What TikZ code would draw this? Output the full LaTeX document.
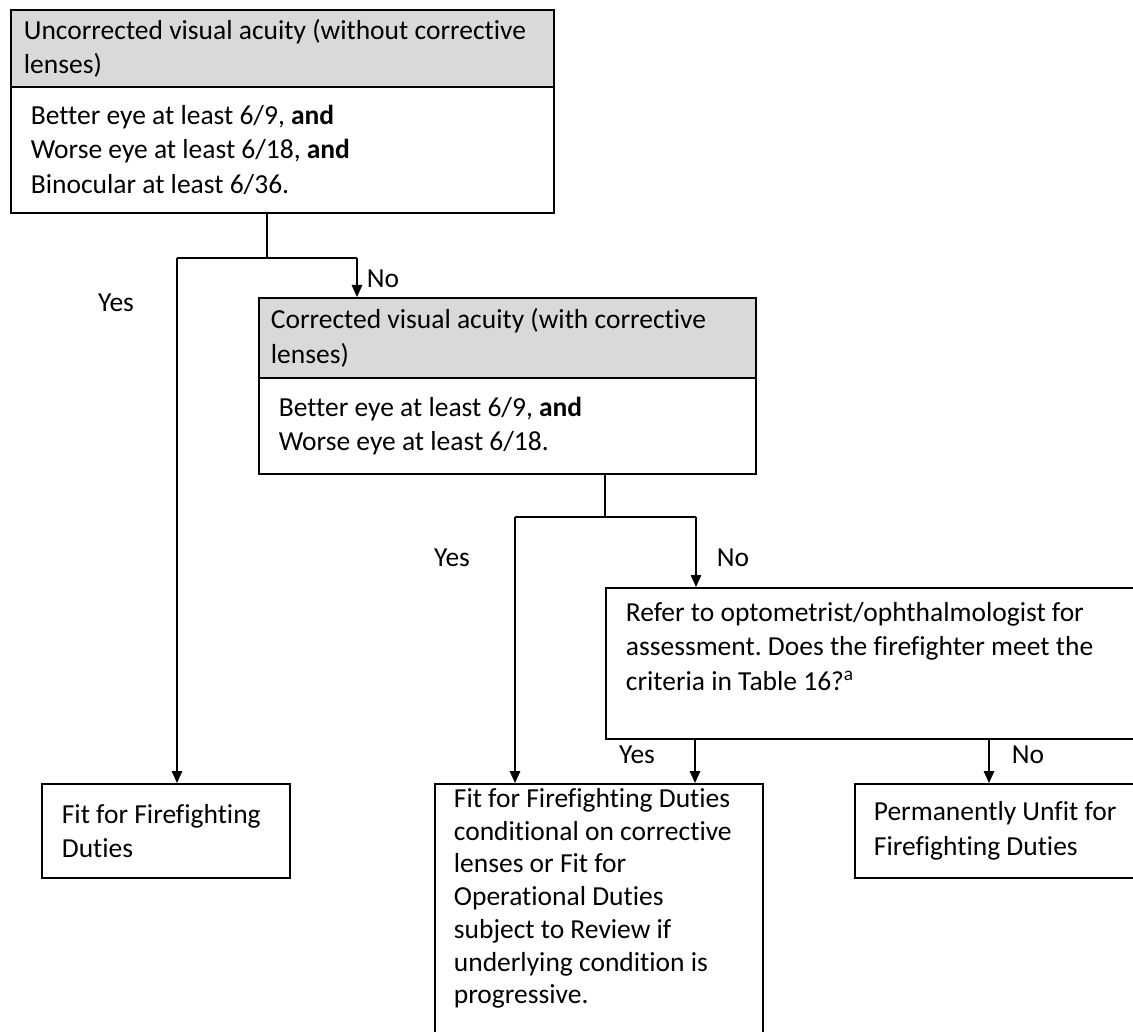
\documentclass[tikz,border=0pt]{standalone}
\usepackage{fontspec}
\setmainfont{Carlito}[Ligatures=NoCommon]
\usetikzlibrary{arrows.meta}
\definecolor{headgray}{HTML}{D9D9D9}
\frenchspacing

\begin{document}
\begin{tikzpicture}[x=0.4pt, y=-0.4pt,
    >={Triangle[length=4.8pt,width=4.2pt]},
    every node/.style={font=\fontsize{11}{13.8}\selectfont},
    box/.style={draw, line width=0.7pt, anchor=north west, align=left, inner ysep=0pt,
      execute at begin node={\spaceskip=0pt\xspaceskip=0pt}},
    head/.style={box, fill=headgray},
    lbl/.style={inner sep=0pt},
    line/.style={line width=0.6pt}]
			\useasboundingbox (0,0) rectangle (1133,1032);
			\clip (0,0) rectangle (1133,1032);

			\node[head, text width=206.8pt, inner xsep=5.2pt, minimum height=30.8pt] (hdrA) at (10,9) {Uncorrected visual acuity (without corrective\\lenses)};
			\node[box, text width=201.2pt, inner xsep=8pt, minimum height=50.4pt] (bodyA) at (10,86) {Better eye at least 6/9, \textbf{and}\\Worse eye at least 6/18, \textbf{and}\\Binocular at least 6/36.};
			\node[head, text width=189.2pt, inner xsep=4.8pt, minimum height=32pt] (hdrB) at (258,297) {Corrected visual acuity (with corrective\\lenses)};
			\node[box, text width=182.8pt, inner xsep=8pt, minimum height=38.4pt] (bodyB) at (258,377) {Better eye at least 6/9, \textbf{and}\\Worse eye at least 6/18.};
			\node[box, text width=200pt, inner xsep=8pt, minimum height=60.4pt] (refer) at (605,587) {Refer to optometrist/ophthalmologist for\\assessment. Does the firefighter meet the\\criteria in Table 16?\textsuperscript{a}\\\mbox{}};
			\node[box, text width=83.2pt, inner xsep=8pt, minimum height=37.6pt] (fit) at (41,783) {Fit for Firefighting\\Duties};
			\node[box, text width=116pt, inner xsep=7.6pt, minimum height=102.8pt, font=\fontsize{11}{13.1}\selectfont] (mid) at (434,783) {Fit for Firefighting Duties\\conditional on corrective\\lenses or Fit for\\Operational Duties\\subject to Review if\\underlying condition is\\progressive.\\\mbox{}};
			\node[box, text width=110pt, inner xsep=7.6pt, minimum height=37.6pt] (unfit) at (854,783) {Permanently Unfit for\\Firefighting Duties};

			\coordinate (jA) at (267,258);
			\coordinate (yesA) at (177,258);
			\coordinate (noA) at (357,258);
			\coordinate (jB) at (605,517);
			\coordinate (yesB) at (515,517);
			\coordinate (noB) at (696,517);
			\coordinate (yesC) at (695,760);
			\coordinate (noC) at (989,760);

			\draw[line] (bodyA.south -| jA) -- (jA);
			\draw[line] (yesA) -- (noA);
			\draw[line, ->] (yesA) -- (yesA |- fit.north);
			\draw[line, ->] (noA) -- (noA |- hdrB.north);

			\draw[line] (bodyB.south -| jB) -- (jB);
			\draw[line] (yesB) -- (noB);
			\draw[line, ->] (yesB) -- (yesB |- mid.north);
			\draw[line, ->] (noB) -- (noB |- refer.north);

			\draw[line, ->] (yesC |- refer.south) -- (yesC |- mid.north);
			\draw[line, ->] (noC |- refer.south) -- (noC |- unfit.north);

			\node[lbl] (yesAl) at (116,303) {Yes};
			\node[lbl] (noAl) at (383,279) {No};
			\node[lbl] (yesBl) at (452,558) {Yes};
			\node[lbl] (noBl) at (733,558) {No};
			\node[lbl] (yesCl) at (637,755) {Yes};
			\node[lbl] (noCl) at (1028,755) {No};
\end{tikzpicture}
\end{document}
